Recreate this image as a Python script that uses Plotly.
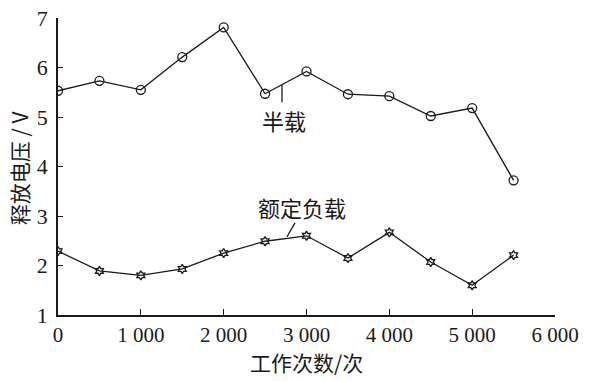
import plotly.graph_objects as go

cycles = [0, 500, 1000, 1500, 2000, 2500, 3000, 3500, 4000, 4500, 5000, 5500]
half_load = [5.53, 5.73, 5.55, 6.21, 6.81, 5.47, 5.92, 5.46, 5.42, 5.02, 5.18, 3.72]
rated_load = [2.29, 1.89, 1.80, 1.93, 2.25, 2.49, 2.60, 2.15, 2.67, 2.07, 1.60, 2.21]

x_ticks = [0, 1000, 2000, 3000, 4000, 5000, 6000]
x_ticklabels = ["0", "1 000", "2 000", "3 000", "4 000", "5 000", "6 000"]
y_ticks = [1, 2, 3, 4, 5, 6, 7]

CJK = "Noto Sans CJK SC"
SERIF = "Liberation Serif"
INK = "#1a1a1a"

fig = go.Figure()
fig.add_trace(go.Scatter(
    x=cycles, y=half_load, mode="lines+markers", name="半载",
    line=dict(color=INK, width=1.3),
    marker=dict(symbol="circle-open", size=9, color=INK, line=dict(width=1.3)),
))
fig.add_trace(go.Scatter(
    x=cycles, y=rated_load, mode="lines+markers", name="额定负载",
    line=dict(color=INK, width=1.3),
    marker=dict(symbol="hexagram-open", size=7, color=INK, line=dict(width=1.3)),
))

# leader lines for labels
fig.add_shape(type="line", x0=2704, y0=5.65, x1=2704, y1=5.30,
              line=dict(color=INK, width=1.3))
fig.add_shape(type="line", x0=2765, y0=2.58, x1=2861, y1=2.86,
              line=dict(color=INK, width=1.3))

fig.add_annotation(x=2728, y=4.94, text="半载", showarrow=False,
                   xanchor="center", yanchor="middle",
                   font=dict(family=CJK, size=22, color=INK))
fig.add_annotation(x=2946, y=3.18, text="额定负载", showarrow=False,
                   xanchor="center", yanchor="middle",
                   font=dict(family=CJK, size=22, color=INK))

fig.add_annotation(xref="paper", yref="paper", x=0.501, y=-0.158,
                   text="工作次数/次", showarrow=False,
                   xanchor="center", yanchor="middle",
                   font=dict(family=CJK, size=21, color=INK))
fig.add_annotation(xref="paper", yref="paper", x=-0.078, y=0.495,
                   text="释放电压 / V", showarrow=False, textangle=-90,
                   xanchor="center", yanchor="middle",
                   font=dict(family=CJK, size=21, color=INK))

fig.update_layout(
    width=589, height=381,
    margin=dict(l=58, r=34, t=18, b=66, autoexpand=False),
    paper_bgcolor="white", plot_bgcolor="white",
    showlegend=False,
)
fig.update_xaxes(
    range=[0, 6000], tickvals=x_ticks, ticktext=x_ticklabels,
    showgrid=False, zeroline=False, showline=True, linecolor=INK, linewidth=1.5,
    ticks="inside", ticklen=6, tickwidth=1.3, tickcolor=INK,
    tickfont=dict(family=SERIF, size=21, color=INK), ticklabelstandoff=0,
    ticklabeloverflow="allow",
)
fig.update_yaxes(
    range=[1, 7], tickvals=y_ticks,
    showgrid=False, zeroline=False, showline=True, linecolor=INK, linewidth=1.5,
    ticks="inside", ticklen=5, tickwidth=1.3, tickcolor=INK,
    tickfont=dict(family=SERIF, size=22, color=INK), ticklabelstandoff=4,
    ticklabeloverflow="allow",
)

fig.write_html("out.html", config={"displayModeBar": False},
               post_script="document.body.style.margin='0';")
